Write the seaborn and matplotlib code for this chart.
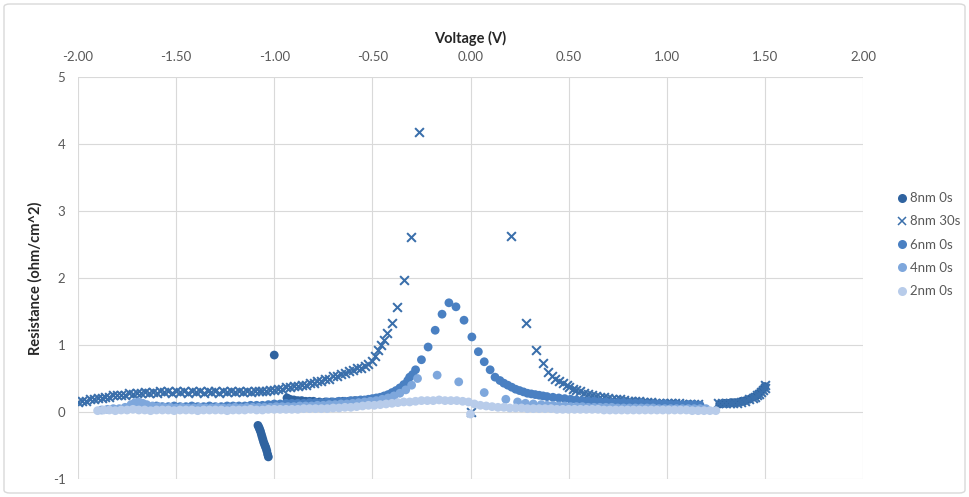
import matplotlib
matplotlib.use("Agg")
import matplotlib.pyplot as plt
import seaborn as sns
import pandas as pd
from matplotlib.patches import FancyBboxPatch
from matplotlib.lines import Line2D

# ---------------- data: (voltage V, resistance ohm/cm^2) ----------------
series_names = ["8nm 0s", "8nm 30s", "6nm 0s", "4nm 0s", "2nm 0s"]

pts_8nm_0s = [(-1.083, -0.20), (-1.078, -0.23), (-1.074, -0.26), (-1.070, -0.29), (-1.066, -0.33),
              (-1.062, -0.37), (-1.058, -0.41), (-1.054, -0.45), (-1.050, -0.48), (-1.046, -0.51),
              (-1.042, -0.54), (-1.038, -0.58), (-1.034, -0.63), (-1.030, -0.67), (-1.00, 0.85),
              (-0.935, 0.21), (-0.92, 0.19), (-0.90, 0.18), (-0.88, 0.17), (-0.86, 0.17),
              (-0.84, 0.16), (-0.82, 0.16), (-0.80, 0.16), (-0.77, 0.15), (-0.74, 0.15),
              (-0.71, 0.15), (-0.68, 0.15), (-0.65, 0.16), (-0.62, 0.16), (-0.59, 0.17),
              (-0.56, 0.17),
              (1.27, 0.12), (1.29, 0.13), (1.31, 0.13), (1.33, 0.14), (1.35, 0.14),
              (1.38, 0.16), (1.40, 0.17), (1.42, 0.19), (1.44, 0.22), (1.46, 0.25),
              (1.47, 0.28), (1.48, 0.31), (1.49, 0.34), (1.50, 0.38)]

pts_8nm_30s = [(-2.00, 0.15), (-1.98, 0.17), (-1.96, 0.17), (-1.94, 0.19), (-1.92, 0.19),
               (-1.90, 0.21), (-1.88, 0.21), (-1.86, 0.23), (-1.84, 0.23), (-1.82, 0.25),
               (-1.80, 0.25), (-1.78, 0.26), (-1.76, 0.26), (-1.74, 0.28), (-1.72, 0.27),
               (-1.70, 0.29), (-1.68, 0.28), (-1.66, 0.30), (-1.64, 0.29), (-1.62, 0.30),
               (-1.60, 0.29), (-1.58, 0.31), (-1.56, 0.30), (-1.54, 0.31), (-1.52, 0.29),
               (-1.50, 0.31), (-1.48, 0.30), (-1.46, 0.31), (-1.44, 0.29), (-1.42, 0.31),
               (-1.40, 0.30), (-1.38, 0.31), (-1.36, 0.29), (-1.34, 0.31), (-1.32, 0.30),
               (-1.30, 0.31), (-1.28, 0.29), (-1.26, 0.31), (-1.24, 0.30), (-1.22, 0.31),
               (-1.20, 0.30), (-1.18, 0.31), (-1.16, 0.30), (-1.14, 0.31), (-1.12, 0.30),
               (-1.10, 0.32), (-1.08, 0.31), (-1.06, 0.32), (-1.04, 0.31), (-1.02, 0.33),
               (-1.00, 0.33), (-0.98, 0.35), (-0.96, 0.35), (-0.94, 0.37), (-0.92, 0.37),
               (-0.90, 0.39), (-0.88, 0.39), (-0.86, 0.41), (-0.84, 0.41), (-0.82, 0.43),
               (-0.80, 0.44), (-0.78, 0.46), (-0.76, 0.47), (-0.74, 0.49), (-0.72, 0.50),
               (-0.70, 0.53), (-0.68, 0.54), (-0.66, 0.57), (-0.64, 0.58), (-0.62, 0.61),
               (-0.60, 0.62), (-0.58, 0.65), (-0.56, 0.66), (-0.54, 0.69), (-0.52, 0.71),
               (-0.50, 0.76), (-0.487, 0.84), (-0.47, 0.92), (-0.456, 1.00), (-0.44, 1.08),
               (-0.425, 1.18), (-0.40, 1.33), (-0.375, 1.57), (-0.34, 1.97), (-0.303, 2.61),
               (-0.26, 4.18),
               (0.00, 0.00), (0.206, 2.63), (0.283, 1.33), (0.334, 0.93), (0.37, 0.73),
               (0.395, 0.60), (0.415, 0.54), (0.43, 0.50), (0.45, 0.47), (0.47, 0.44),
               (0.49, 0.40), (0.50, 0.38), (0.52, 0.35), (0.54, 0.33), (0.56, 0.31),
               (0.58, 0.29), (0.60, 0.27), (0.62, 0.26), (0.64, 0.24), (0.66, 0.23),
               (0.68, 0.22), (0.70, 0.21), (0.72, 0.20), (0.74, 0.19), (0.76, 0.19),
               (0.78, 0.18), (0.80, 0.17), (0.82, 0.17), (0.84, 0.16), (0.86, 0.16),
               (0.88, 0.15), (0.90, 0.15), (0.92, 0.15), (0.94, 0.14), (0.96, 0.14),
               (0.98, 0.14), (1.00, 0.13), (1.02, 0.13), (1.04, 0.13), (1.06, 0.13),
               (1.08, 0.12), (1.10, 0.12), (1.12, 0.12), (1.14, 0.12), (1.16, 0.12),
               (1.26, 0.13), (1.28, 0.13), (1.30, 0.13), (1.32, 0.13), (1.34, 0.14),
               (1.36, 0.14), (1.38, 0.15), (1.40, 0.17), (1.42, 0.19), (1.44, 0.21),
               (1.45, 0.23), (1.46, 0.25), (1.47, 0.27), (1.48, 0.30), (1.49, 0.33),
               (1.50, 0.36), (1.50, 0.40)]

pts_6nm_0s = [(-1.60, 0.09), (-1.57, 0.08), (-1.54, 0.08), (-1.51, 0.09), (-1.48, 0.08),
              (-1.45, 0.08), (-1.42, 0.09), (-1.39, 0.08), (-1.36, 0.08), (-1.33, 0.09),
              (-1.30, 0.08), (-1.27, 0.08), (-1.24, 0.09), (-1.21, 0.09), (-1.18, 0.09),
              (-1.15, 0.09), (-1.12, 0.10), (-1.09, 0.10), (-1.06, 0.10), (-1.03, 0.11),
              (-1.00, 0.12), (-0.97, 0.12), (-0.94, 0.13), (-0.91, 0.13), (-0.88, 0.13),
              (-0.85, 0.13), (-0.82, 0.14), (-0.79, 0.14), (-0.76, 0.14), (-0.73, 0.15),
              (-0.70, 0.15), (-0.67, 0.16), (-0.64, 0.16), (-0.61, 0.17), (-0.58, 0.17),
              (-0.56, 0.18), (-0.54, 0.18), (-0.52, 0.19), (-0.50, 0.20), (-0.48, 0.21),
              (-0.46, 0.22), (-0.44, 0.24), (-0.42, 0.26), (-0.40, 0.29), (-0.38, 0.32),
              (-0.36, 0.36), (-0.34, 0.41), (-0.32, 0.47), (-0.31, 0.52), (-0.295, 0.56),
              (-0.28, 0.63), (-0.25, 0.78), (-0.216, 0.97), (-0.18, 1.22), (-0.145, 1.46),
              (-0.11, 1.63), (-0.074, 1.57), (-0.033, 1.37), (0.007, 1.12), (0.04, 0.90),
              (0.07, 0.75), (0.10, 0.63), (0.125, 0.52), (0.15, 0.47), (0.17, 0.43),
              (0.19, 0.40), (0.21, 0.37), (0.23, 0.34), (0.25, 0.32), (0.27, 0.30),
              (0.29, 0.28), (0.31, 0.27), (0.33, 0.26), (0.35, 0.25), (0.37, 0.24),
              (0.39, 0.23), (0.42, 0.22), (0.45, 0.21), (0.48, 0.20), (0.51, 0.19),
              (0.54, 0.18), (0.57, 0.17), (0.60, 0.16), (0.63, 0.16), (0.66, 0.15),
              (0.69, 0.15), (0.72, 0.14), (0.75, 0.14), (0.78, 0.14), (0.81, 0.13),
              (0.84, 0.13), (0.87, 0.13), (0.90, 0.12), (0.93, 0.12), (0.96, 0.12),
              (0.99, 0.12), (1.02, 0.11), (1.05, 0.11), (1.08, 0.11), (1.11, 0.11),
              (1.14, 0.11), (1.17, 0.10)]

pts_4nm_0s = [(-1.88, 0.03), (-1.85, 0.04), (-1.82, 0.05), (-1.79, 0.05), (-1.76, 0.07),
              (-1.73, 0.11), (-1.71, 0.14), (-1.69, 0.15), (-1.67, 0.13), (-1.65, 0.11),
              (-1.62, 0.09), (-1.59, 0.08), (-1.56, 0.07), (-1.53, 0.07), (-1.50, 0.06),
              (-1.47, 0.07), (-1.44, 0.06), (-1.41, 0.06), (-1.38, 0.07), (-1.35, 0.06),
              (-1.32, 0.06), (-1.29, 0.07), (-1.26, 0.06), (-1.23, 0.06), (-1.20, 0.07),
              (-1.17, 0.06), (-1.14, 0.07), (-1.11, 0.07), (-1.08, 0.07), (-1.05, 0.07),
              (-1.02, 0.07), (-0.99, 0.08), (-0.96, 0.08), (-0.93, 0.08), (-0.90, 0.08),
              (-0.87, 0.09), (-0.84, 0.09), (-0.81, 0.09), (-0.78, 0.10), (-0.75, 0.10),
              (-0.72, 0.11), (-0.69, 0.11), (-0.66, 0.12), (-0.63, 0.12), (-0.60, 0.13),
              (-0.57, 0.14), (-0.54, 0.15), (-0.51, 0.16), (-0.48, 0.17), (-0.45, 0.19),
              (-0.42, 0.21), (-0.39, 0.24), (-0.36, 0.28), (-0.33, 0.33), (-0.30, 0.40),
              (-0.27, 0.50), (-0.17, 0.55), (-0.06, 0.45), (0.07, 0.29), (0.18, 0.19),
              (0.24, 0.15), (0.28, 0.13), (0.32, 0.12), (0.36, 0.11), (0.39, 0.10),
              (0.42, 0.10), (0.45, 0.09), (0.48, 0.09), (0.51, 0.08), (0.54, 0.08),
              (0.57, 0.08), (0.60, 0.07), (0.63, 0.07), (0.66, 0.07), (0.69, 0.07),
              (0.72, 0.07), (0.75, 0.06), (0.78, 0.06), (0.81, 0.06), (0.84, 0.06),
              (0.87, 0.06), (0.90, 0.06), (0.93, 0.06), (0.96, 0.05), (0.99, 0.05),
              (1.02, 0.05), (1.05, 0.05), (1.08, 0.05), (1.11, 0.05), (1.14, 0.05),
              (1.17, 0.05), (1.20, 0.05)]

pts_2nm_0s = [(-1.90, 0.02), (-1.87, 0.03), (-1.84, 0.03), (-1.81, 0.02), (-1.78, 0.03),
              (-1.75, 0.03), (-1.72, 0.04), (-1.69, 0.03), (-1.66, 0.03), (-1.63, 0.02),
              (-1.60, 0.03), (-1.57, 0.03), (-1.54, 0.03), (-1.51, 0.02), (-1.48, 0.03),
              (-1.45, 0.03), (-1.42, 0.03), (-1.39, 0.02), (-1.36, 0.03), (-1.33, 0.03),
              (-1.30, 0.03), (-1.27, 0.03), (-1.24, 0.02), (-1.21, 0.03), (-1.18, 0.03),
              (-1.15, 0.03), (-1.12, 0.04), (-1.09, 0.03), (-1.06, 0.03), (-1.03, 0.04),
              (-1.00, 0.04), (-0.97, 0.04), (-0.94, 0.04), (-0.91, 0.04), (-0.88, 0.04),
              (-0.85, 0.05), (-0.82, 0.05), (-0.79, 0.05), (-0.76, 0.05), (-0.73, 0.05),
              (-0.70, 0.06), (-0.67, 0.06), (-0.64, 0.07), (-0.61, 0.07), (-0.58, 0.08),
              (-0.55, 0.09), (-0.52, 0.10), (-0.49, 0.10), (-0.46, 0.11), (-0.43, 0.12),
              (-0.40, 0.13), (-0.37, 0.14), (-0.34, 0.15), (-0.31, 0.15), (-0.28, 0.16),
              (-0.25, 0.17), (-0.22, 0.17), (-0.19, 0.17), (-0.16, 0.18), (-0.13, 0.17),
              (-0.10, 0.17), (-0.07, 0.17), (-0.04, 0.16), (-0.01, 0.15), (0.00, -0.03),
              (0.02, 0.12), (0.05, 0.10), (0.08, 0.09), (0.11, 0.08), (0.14, 0.07),
              (0.17, 0.07), (0.20, 0.06), (0.23, 0.06), (0.26, 0.06), (0.29, 0.05),
              (0.32, 0.05), (0.35, 0.05), (0.38, 0.05), (0.41, 0.05), (0.44, 0.04),
              (0.47, 0.04), (0.50, 0.04), (0.53, 0.04), (0.56, 0.04), (0.59, 0.04),
              (0.62, 0.04), (0.65, 0.04), (0.68, 0.03), (0.71, 0.03), (0.74, 0.03),
              (0.77, 0.03), (0.80, 0.03), (0.83, 0.03), (0.86, 0.03), (0.89, 0.03),
              (0.92, 0.03), (0.95, 0.03), (0.98, 0.03), (1.01, 0.03), (1.04, 0.03),
              (1.07, 0.03), (1.10, 0.03), (1.13, 0.02), (1.16, 0.02), (1.19, 0.02),
              (1.22, 0.02), (1.25, 0.02)]

x_ticks = [-2.0, -1.5, -1.0, -0.5, 0.0, 0.5, 1.0, 1.5, 2.0]
y_ticks = [-1, 0, 1, 2, 3, 4, 5]

# ---------------- styling ----------------
colors = {"8nm 0s": "#2F63A0", "8nm 30s": "#3A6FAB", "6nm 0s": "#4A80C2",
          "4nm 0s": "#7EA7DC", "2nm 0s": "#B8CCEA"}
markers = {"8nm 0s": "o", "8nm 30s": "x", "6nm 0s": "o", "4nm 0s": "o", "2nm 0s": "o"}
data = {"8nm 0s": pts_8nm_0s, "8nm 30s": pts_8nm_30s, "6nm 0s": pts_6nm_0s,
        "4nm 0s": pts_4nm_0s, "2nm 0s": pts_2nm_0s}

sns.set_theme(style="white")
plt.rcParams["font.family"] = ["Lato", "DejaVu Sans"]

fig = plt.figure(figsize=(9.69, 4.97), dpi=100)
ax = fig.add_axes([78 / 969, 1 - 479 / 497, (863 - 78) / 969, (479 - 77) / 497])

for name in series_names:
    df = pd.DataFrame(data[name], columns=["V", "R"])
    if markers[name] == "x":
        sns.scatterplot(data=df, x="V", y="R", ax=ax, marker="x", color=colors[name],
                        s=40, linewidth=1.45, zorder=3)
    else:
        sns.scatterplot(data=df, x="V", y="R", ax=ax, marker="o", color=colors[name],
                        s=40, edgecolor="none", zorder=3)

ax.set_xlim(-2.0, 2.0)
ax.set_ylim(-1, 5)
ax.set_xticks(x_ticks)
ax.set_xticklabels([f"{t:.2f}" for t in x_ticks])
ax.set_yticks(y_ticks)
ax.set_yticklabels([str(t) for t in y_ticks])
ax.xaxis.tick_top()
ax.xaxis.set_label_position("top")
ax.grid(True, color="#D9D9D9", linewidth=0.8)
ax.set_axisbelow(True)
for sp in ax.spines.values():
    sp.set_visible(False)
ax.tick_params(axis="both", length=0, labelsize=9.5, labelcolor="#595959")
ax.tick_params(axis="x", pad=10)
ax.tick_params(axis="y", pad=9)
ax.set_xlabel("Voltage (V)", fontsize=10.5, fontweight="bold", color="#262626", labelpad=6)
ax.set_ylabel("Resistance (ohm/cm^2)", fontsize=10.5, fontweight="bold", color="#262626", labelpad=7)

handles = []
for name in series_names:
    if markers[name] == "x":
        h = Line2D([], [], linestyle="none", marker="x", color=colors[name],
                   markersize=6, markeredgewidth=1.1)
    else:
        h = Line2D([], [], linestyle="none", marker="o", color=colors[name],
                   markeredgecolor="none", markersize=6.5)
    handles.append(h)
leg = fig.legend(handles, series_names, loc="upper left",
                 bbox_to_anchor=(892 / 969, 1 - 187 / 497), frameon=False,
                 fontsize=9.5, labelcolor="#595959", handlelength=0.7,
                 handletextpad=0.25, labelspacing=0.85, borderaxespad=0)

border = FancyBboxPatch((4 / 969, 4 / 497), 961 / 969, 489 / 497,
                        boxstyle="round,pad=0,rounding_size=0.006",
                        transform=fig.transFigure, facecolor="none",
                        edgecolor="#D9D9D9", linewidth=1.0)
fig.patches.append(border)

fig.savefig("out.png", dpi=100)
